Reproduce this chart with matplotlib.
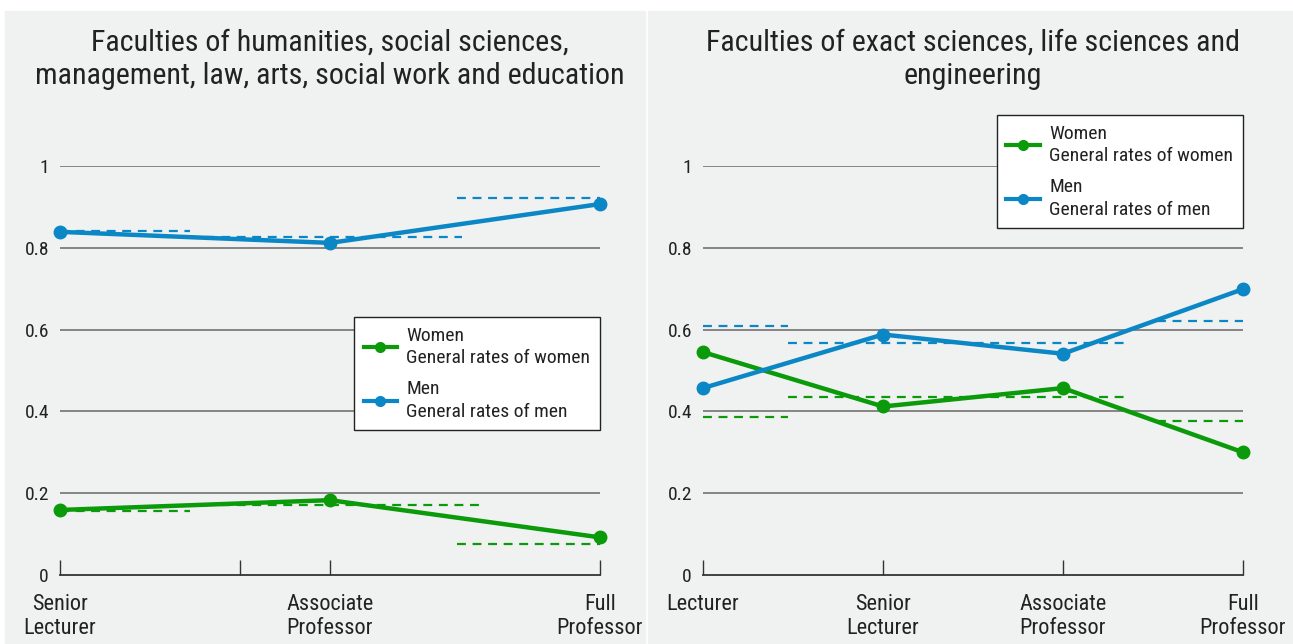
"""Promotion rates of women and men by rank, two faculty groups."""

import matplotlib

matplotlib.use("Agg")
import matplotlib.pyplot as plt
from matplotlib.lines import Line2D
from matplotlib.patches import Rectangle

plt.rcParams["font.family"] = ["Roboto Condensed", "Archivo Narrow", "DejaVu Sans"]

# ---- Data ---------------------------------------------------------------
left_title = "Faculties of humanities, social sciences,\nmanagement, law, arts, social work and education"
left_categories = ["Senior\nLecturer", "Associate\nProfessor", "Full\nProfessor"]
left_women = [0.159, 0.183, 0.092]
left_men = [0.839, 0.812, 0.907]
left_women_general = [0.157, 0.172, 0.077]
left_men_general = [0.841, 0.826, 0.921]
# extent of each general-rate segment along the category axis
left_women_spans = [(0.0, 0.48), (0.48, 1.57), (1.47, 2.0)]
left_men_spans = [(0.0, 0.48), (0.48, 1.49), (1.47, 2.0)]

right_title = "Faculties of exact sciences, life sciences and\nengineering"
right_categories = ["Lecturer", "Senior\nLecturer", "Associate\nProfessor", "Full\nProfessor"]
right_women = [0.545, 0.412, 0.457, 0.300]
right_men = [0.457, 0.588, 0.541, 0.699]
right_women_general = [0.387, 0.434, 0.377]
right_men_general = [0.610, 0.567, 0.622]
right_spans = [(0.0, 0.47), (0.47, 2.36), (2.52, 3.0)]

y_ticks = [0, 0.2, 0.4, 0.6, 0.8, 1.0]
y_ticklabels = ["0", "0.2", "0.4", "0.6", "0.8", "1"]

GREEN = "#0a9a0a"
BLUE = "#0b87c6"
PANEL = "#f0f1f1"
W, H = 1293, 644


def draw_panel(ax, title, cats, women, men, w_gen, m_gen, w_spans, m_spans,
               legend_anchor, extra_ticks=()):
    x = list(range(len(cats)))
    for yv in y_ticks[1:]:
        ax.axhline(yv, color="#858585", lw=1.4, zorder=1)
    for (x0, x1), v in zip(w_spans, w_gen):
        ax.plot([x0, x1], [v, v], color=GREEN, lw=1.6, ls=(0, (4, 3)), zorder=2)
    for (x0, x1), v in zip(m_spans, m_gen):
        ax.plot([x0, x1], [v, v], color=BLUE, lw=1.6, ls=(0, (4, 3)), zorder=2)
    ax.plot(x, women, color=GREEN, lw=3.2, marker="o", ms=9, clip_on=False, zorder=3)
    ax.plot(x, men, color=BLUE, lw=3.2, marker="o", ms=9, clip_on=False, zorder=3)

    ax.set_xlim(0, len(cats) - 1)
    ax.set_ylim(0, 1)
    ax.set_facecolor("none")
    for side in ("top", "right", "left"):
        ax.spines[side].set_visible(False)
    ax.spines["bottom"].set_color("#333333")
    ax.spines["bottom"].set_linewidth(1.3)

    ax.set_xticks(x)
    ax.set_xticklabels(cats, fontsize=16, color="#222222", linespacing=1.15)
    ax.set_xticks(list(extra_ticks), minor=True)
    ax.tick_params(axis="x", which="both", direction="in", length=11,
                   width=1, color="#333333", pad=14)
    ax.set_yticks(y_ticks)
    ax.set_yticklabels(y_ticklabels, fontsize=14, color="#222222")
    ax.tick_params(axis="y", length=0, pad=8)

    handles = [
        Line2D([], [], color=GREEN, lw=3, marker="o", ms=7),
        Line2D([], [], color=BLUE, lw=3, marker="o", ms=7),
    ]
    leg = ax.legend(handles, ["Women\nGeneral rates of women", "Men\nGeneral rates of men"],
                    loc="upper right", bbox_to_anchor=legend_anchor, borderaxespad=0,
                    fontsize=14, handlelength=1.7, handletextpad=0.5,
                    labelspacing=0.7, borderpad=0.5, fancybox=False,
                    framealpha=1, edgecolor="#222222")
    leg.get_frame().set_linewidth(1.0)
    for t in leg.get_texts():
        t.set_linespacing(1.3)
        t.set_color("#222222")
    leg.set_zorder(5)

    pos = ax.get_position()
    fig = ax.figure
    fig.text(pos.x0 + pos.width / 2, 1 - 59 / H, title, ha="center", va="center",
             fontsize=21.6, color="#222222", linespacing=1.25)


fig = plt.figure(figsize=(W / 100, H / 100), dpi=100, facecolor="white")
fig.patches.append(Rectangle((5 / W, 0), 640 / W, 1 - 11 / H, transform=fig.transFigure,
                             color=PANEL, zorder=-10))
fig.patches.append(Rectangle((648 / W, 0), 645 / W, 1 - 11 / H, transform=fig.transFigure,
                             color=PANEL, zorder=-10))

bottom = (H - 575) / H
height = 409 / H
ax_left = fig.add_axes([60 / W, bottom, 540 / W, height])
ax_right = fig.add_axes([703 / W, bottom, 540 / W, height])

draw_panel(ax_left, left_title, left_categories, left_women, left_men,
           left_women_general, left_men_general, left_women_spans, left_men_spans,
           (1.0, 0.631), extra_ticks=[2 / 3])
draw_panel(ax_right, right_title, right_categories, right_women, right_men,
           right_women_general, right_men_general, right_spans, right_spans,
           (1.0, 1.125))

fig.savefig("out.png", dpi=100, facecolor="white")
